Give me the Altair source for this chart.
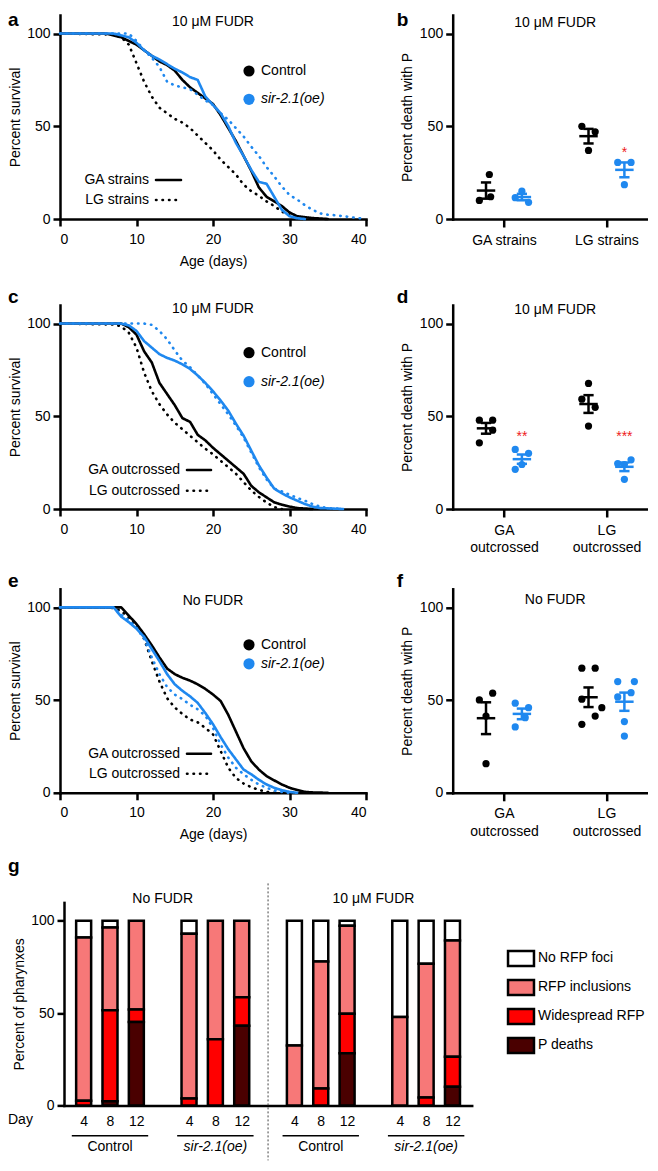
import json
import altair as alt
import pandas as pd

FONT = "Liberation Sans"
BLACK = "#000000"
BLUE = "#1f88ef"
RED = "#ee1c1c"

CONDS = ["Control", "sir-2.1(oe)"]
COND_COLORS = [BLACK, BLUE]
STRAINS = ["GA", "LG"]
STRAIN_DASH = [[1, 0], [0.5, 6]]

# ---------------- panel a : survival, 10 uM FUDR, strains ----------------
a_ga_ctrl_day = [0, 6, 8, 9, 10, 11, 12, 13, 14, 15, 16, 17, 18, 19, 20, 21, 22, 23, 24, 25, 26, 27, 28, 29, 30, 31, 33, 35]
a_ga_ctrl_pct = [100, 100, 98, 96, 94, 91, 88, 85, 83, 80, 75, 71, 68, 65, 62, 56, 49, 42, 34, 26, 17, 12, 9.5, 7, 3.5, 1.5, 0.5, 0]
a_ga_sir_day = [0, 7, 8, 9, 10, 11, 12, 13, 14, 15, 16, 17, 18, 19, 20, 21, 22, 23, 24, 25, 26, 27, 28, 29, 30, 31, 32]
a_ga_sir_pct = [100, 100, 99, 98, 95, 91, 88, 86, 83.5, 81, 79, 76.5, 75, 66, 61.5, 57, 50, 41, 34, 26.5, 20, 19, 12, 5, 1.5, 0.4, 0]
a_lg_ctrl_day = [0, 7, 8, 9, 10, 11, 12, 13, 14, 15, 16, 17, 18, 19, 20, 21, 22, 23, 24, 25, 26, 27, 28, 29, 30, 31, 32]
a_lg_ctrl_pct = [100, 99.5, 98, 94, 84, 74, 66, 60, 57, 54, 52, 49, 45, 41, 37, 32, 28, 24, 18.5, 15, 12.5, 9.5, 7, 4, 2, 0.5, 0]
a_lg_sir_day = [0, 9, 10, 11, 12, 13, 14, 15, 16, 17, 18, 19, 20, 21, 22, 23, 24, 25, 26, 27, 28, 29, 30, 31, 32, 33, 34, 35, 36, 37, 38, 40]
a_lg_sir_pct = [100, 100, 96, 91, 87, 82, 74, 72, 71, 70, 67, 64, 61.5, 57, 53.5, 49, 44.5, 39, 34, 28, 23, 17.5, 13, 10.5, 7.5, 5, 3, 2.3, 2, 1.5, 1, 0]

# ---------------- panel c : survival, 10 uM FUDR, outcrossed ----------------
c_ga_ctrl_day = [0, 8, 9, 10, 11, 12, 13, 14, 15, 16, 17, 18, 19, 20, 21, 22, 23, 24, 25, 26, 27, 28, 29, 30, 31, 33]
c_ga_ctrl_pct = [100, 100, 98, 94, 85, 79, 68, 62, 56, 49, 47, 40, 37, 33, 29.5, 26, 22.5, 19, 12.5, 9, 6.3, 3.6, 2.3, 1.3, 0.5, 0]
c_lg_ctrl_day = [0, 7, 8, 9, 10, 11, 12, 13, 14, 15, 16, 17, 18, 19, 20, 21, 22, 23, 24, 25, 26, 27, 28, 29]
c_lg_ctrl_pct = [100, 99.5, 98.5, 95, 87, 73.5, 63.5, 56.5, 51, 46.5, 43, 39.5, 36, 32.5, 29.5, 26, 22.5, 19, 14.5, 10, 6.5, 3.5, 1, 0]
c_ga_sir_day = [0, 8, 9, 10, 11, 12, 13, 14, 15, 16, 17, 18, 19, 20, 21, 22, 23, 24, 25, 26, 27, 28, 29, 30, 31, 32, 33, 34, 37]
c_ga_sir_pct = [100, 100, 99, 96, 90.5, 87, 83.5, 81.5, 80, 78, 75.5, 72, 68, 63.5, 58.5, 53, 46, 39.5, 31.5, 23.5, 17, 11, 8.5, 6.3, 4.5, 2.7, 1.3, 0.5, 0]
c_lg_sir_day = [0, 11, 12, 13, 14, 15, 16, 17, 18, 19, 20, 21, 22, 23, 24, 25, 26, 27, 28, 29, 30, 31, 32, 33, 34, 35, 37]
c_lg_sir_pct = [100, 100, 99.3, 96, 91.5, 85.5, 80, 76.5, 72, 67.5, 62, 56.5, 51, 45, 38.5, 30.5, 22.5, 16, 11, 9.5, 7.7, 6, 4.5, 2.7, 1.3, 0.5, 0]

# ---------------- panel e : survival, no FUDR, outcrossed ----------------
e_ga_ctrl_day = [0, 8, 9, 10, 11, 12, 13, 14, 15, 16, 17, 18, 19, 20, 21, 22, 23, 24, 25, 26, 27, 28, 29, 30, 31, 32, 33, 35]
e_ga_ctrl_pct = [100, 100, 95.5, 91, 85.5, 79.5, 73, 67, 64, 62, 60.5, 58.5, 56, 53, 49.5, 42, 33, 24, 17, 12.5, 9, 6.7, 4.5, 2.7, 1.5, 0.5, 0.2, 0]
e_ga_sir_day = [0, 7, 8, 9, 10, 11, 12, 13, 14, 15, 16, 17, 18, 19, 20, 21, 22, 23, 24, 25, 26, 27, 28, 29, 30, 31]
e_ga_sir_pct = [100, 100, 95, 92, 88.5, 84, 77.5, 71, 64, 58.5, 55, 52, 48.5, 43, 37, 30, 23.5, 18, 12.5, 10, 7, 4.5, 2.7, 1.4, 0.5, 0]
e_lg_ctrl_day = [0, 5, 7, 8, 9, 10, 11, 12, 13, 14, 15, 16, 17, 18, 19, 20, 21, 22, 23, 24, 25, 26, 27, 28]
e_lg_ctrl_pct = [100, 100, 99.6, 98, 94.5, 90, 83, 71, 60, 51, 46, 42.5, 39.5, 38, 35, 31.5, 22.5, 13.5, 8, 5, 3, 1.6, 0.5, 0]
e_lg_sir_day = [0, 7, 8, 9, 10, 11, 12, 13, 14, 15, 16, 17, 18, 19, 20, 21, 22, 23, 24, 25, 26, 27, 28, 29, 30]
e_lg_sir_pct = [100, 100, 96, 93, 89, 83, 73, 64, 57, 53, 50.5, 47.5, 45, 41.5, 35, 26, 19, 13.5, 10, 7, 4.5, 2.7, 1.3, 0.5, 0]

# ---------------- panels b, d, f : percent death with P ----------------
b_groups = ["GA strains", "LG strains"]
b_ga_ctrl = [24, 10, 12]
b_ga_sir = [15, 11.5, 9]
b_lg_ctrl = [50, 47, 37]
b_lg_sir = [30.5, 30.5, 18.5]
b_slots = [[0.5, -1, 0.7], [0, -1, 1], [-1, 1, 0], [-1, 1, 0]]
b_stars = ["", "*"]
b_star_y = [0, 37.5]

d_groups = ["GA\noutcrossed", "LG\noutcrossed"]
d_ga_ctrl = [47.9, 47.9, 42.5, 35.7]
d_ga_sir = [32.1, 30, 24, 21.4]
d_lg_ctrl = [67.7, 59.2, 54.8, 44.7]
d_lg_sir = [24.5, 26.5, 24, 16]
d_slots = [[-1, 1, 1, -1], [-1, 1, 0, -1], [0, -1, 1, 0], [-1, 1, 0, 0]]
d_stars = ["**", "***"]
d_star_y = [41, 41]

f_groups = ["GA\noutcrossed", "LG\noutcrossed"]
f_ga_ctrl = [53.7, 50.1, 41.4, 15.7]
f_ga_sir = [48.3, 45.9, 40.5, 35.5]
f_lg_ctrl = [67.2, 67.2, 50.5, 45.9, 41.4, 36.9]
f_lg_sir = [60, 60, 54, 51.7, 38.4, 30.6]
f_slots = [[1, -1, 0, 0], [-1, 1, 0.5, -1], [-1, 1, -1, 2, 1, -1], [-1, 1.5, 1, -1, 0, 0]]
f_stars = ["", ""]
f_star_y = [0, 0]

# ---------------- panel g : pharynx categories ----------------
G_GROUPS = ["Control", "sir-2.1(oe)", "Control", "sir-2.1(oe)"]
G_TREATS = ["No FUDR", "10 μM FUDR"]
G_DAYS = [4, 8, 12]
CATS = ["No RFP foci", "RFP inclusions", "Widespread RFP", "P deaths"]
CAT_COLORS = ["#ffffff", "#f77878", "#ff0000", "#4a0000"]
STACK_ORDER = ["P deaths", "Widespread RFP", "RFP inclusions", "No RFP foci"]
g_p_deaths = [0, 2.3, 45.2, 0, 0, 43.1, 0, 0, 28.3, 0, 0, 10.1]
g_widespread = [2.5, 49.2, 6.7, 3.8, 35.9, 15.5, 0, 9.2, 21.4, 0, 4.3, 16.2]
g_inclusions = [88.5, 44.9, 48.1, 89.2, 64.1, 41.4, 32.4, 68.8, 47.6, 47.9, 72.5, 63.1]
g_no_rfp = [9.0, 3.6, 0, 7.0, 0, 0, 67.6, 22.0, 2.7, 52.1, 23.2, 10.6]

W1, W2, H = 306, 195, 204
X2_MAX = 195 / 51.25
GW, GH = 407.7, 203

color_scale = alt.Scale(domain=CONDS, range=COND_COLORS)
dash_scale = alt.Scale(domain=STRAINS, range=STRAIN_DASH)


def text_layer(text, x, y, size=14, weight="normal", style="normal", align="center", color=BLACK):
    return alt.Chart(pd.DataFrame({"t": [text]})).mark_text(
        font=FONT, fontSize=size, fontWeight=weight, fontStyle=style,
        align=align, baseline="middle", color=color
    ).encode(text="t:N", x=alt.value(x), y=alt.value(y))


def top_guard(y):
    # invisible guide that reserves a little room above the panel letters
    return alt.Chart(pd.DataFrame({"v": [0]})).mark_rule(opacity=0, strokeWidth=1).encode(
        x=alt.value(0), x2=alt.value(1), y=alt.value(y))


def series_frame(items):
    rows = []
    for cond, strain, days, pcts in items:
        for d, p in zip(days, pcts):
            rows.append({"cond": cond, "strain": strain, "series": cond + "|" + strain, "day": d, "pct": p})
    return pd.DataFrame(rows)


def survival_panel(df, strain_labels, title, title_y, letter, letter_y, circ_y, strain_y,
                   lab_right, samp_x, xtitle, guard=False):
    xaxis = alt.Axis(values=[0, 10, 20, 30, 40], title=xtitle)
    yaxis = alt.Axis(values=[0, 50, 100], title="Percent survival")
    lines = alt.Chart(df).mark_line(strokeWidth=2.6, strokeCap="round", strokeJoin="round").encode(
        x=alt.X("day:Q", scale=alt.Scale(domain=[0, 40], nice=False), axis=xaxis),
        y=alt.Y("pct:Q", scale=alt.Scale(domain=[0, 110], nice=False), axis=yaxis),
        color=alt.Color("cond:N", scale=color_scale, legend=None),
        strokeDash=alt.StrokeDash("strain:N", scale=dash_scale, legend=None),
        detail="series:N",
    )
    layers = [lines, text_layer(title, W1 / 2, title_y),
              text_layer(letter, -52, letter_y, size=19, weight="bold", align="left")]
    if guard:
        layers.append(top_guard(-6.5))
    for i, cond in enumerate(CONDS):
        layers.append(alt.Chart(pd.DataFrame({"c": [cond]})).mark_circle(size=125, opacity=1).encode(
            x=alt.value(189), y=alt.value(circ_y[i]),
            color=alt.Color("c:N", scale=color_scale, legend=None)))
        layers.append(text_layer(cond, 201, circ_y[i], style="italic" if i == 1 else "normal", align="left"))
    for i, lab in enumerate(strain_labels):
        layers.append(text_layer(lab, lab_right, strain_y[i], align="right"))
        layers.append(alt.Chart(pd.DataFrame({"s": [STRAINS[i]]})).mark_rule(
            strokeWidth=2.6, strokeCap="round", color=BLACK).encode(
            x=alt.value(samp_x[0]), x2=alt.value(samp_x[1]), y=alt.value(strain_y[i]),
            strokeDash=alt.StrokeDash("s:N", scale=dash_scale, legend=None)))
    return alt.layer(*layers).properties(width=W1, height=H)


def scatter_panel(groups, values, slots, stars, star_y, title, title_y, letter, letter_y):
    rows = []
    for gi in range(2):
        for ci in range(2):
            k = 2 * gi + ci
            for v, s in zip(values[k], slots[k]):
                rows.append({"gi": gi, "ci": ci, "cond": CONDS[ci], "v": v, "slot": s})
    df = pd.DataFrame(rows)
    labs = []
    for g in groups:
        parts = g.split("\n")
        labs.append(json.dumps(parts if len(parts) > 1 else parts[0]))
    expr = f"datum.value == 1 ? {labs[0]} : (datum.value == 3 ? {labs[1]} : '')"
    xscale = alt.Scale(domain=[0, X2_MAX], nice=False, zero=False)
    yscale = alt.Scale(domain=[0, 110], nice=False)
    xaxis = alt.Axis(values=[1, 3], labelExpr=expr, title=None, tickSize=8, labelLineHeight=17.5)
    yaxis = alt.Axis(values=[0, 50, 100], title="Percent death with P")
    col = alt.Color("cond:N", scale=color_scale, legend=None)

    def X(f):
        return alt.X(f, scale=xscale, axis=xaxis)

    def Y(f):
        return alt.Y(f, scale=yscale, axis=yaxis)

    base = alt.Chart(df).transform_calculate(xc="1 + 2*datum.gi + (datum.ci == 0 ? -0.35 : 0.35)")
    pts = base.transform_calculate(xp="datum.xc + 0.13*datum.slot").mark_circle(size=52, opacity=1).encode(
        x=X("xp:Q"), y=Y("v:Q"), color=col)
    agg = base.transform_aggregate(m="mean(v)", se="stderr(v)", groupby=["gi", "ci", "cond", "xc"]).transform_calculate(
        lo="datum.m - datum.se", hi="datum.m + datum.se",
        ml="datum.xc - 0.18", mr="datum.xc + 0.18", cl="datum.xc - 0.1", cr="datum.xc + 0.1")
    mean_rule = agg.mark_rule(strokeWidth=2.5).encode(x=X("ml:Q"), x2="mr:Q", y=Y("m:Q"), color=col)
    vert = agg.mark_rule(strokeWidth=2.5).encode(x=X("xc:Q"), y=Y("lo:Q"), y2="hi:Q", color=col)
    cap_lo = agg.mark_rule(strokeWidth=2.5).encode(x=X("cl:Q"), x2="cr:Q", y=Y("lo:Q"), color=col)
    cap_hi = agg.mark_rule(strokeWidth=2.5).encode(x=X("cl:Q"), x2="cr:Q", y=Y("hi:Q"), color=col)
    layers = [pts, mean_rule, vert, cap_lo, cap_hi,
              text_layer(title, 205 / 2, title_y),
              text_layer(letter, -56, letter_y, size=19, weight="bold", align="left")]
    sdf = pd.DataFrame({"gi": [0, 1], "txt": stars, "sy": star_y})
    sdf = sdf[sdf["txt"] != ""]
    if len(sdf):
        layers.append(alt.Chart(sdf).transform_calculate(sx="1 + 2*datum.gi + 0.35").mark_text(
            font=FONT, fontSize=14, color=RED, baseline="middle", dy=4).encode(
            x=X("sx:Q"), y=Y("sy:Q"), text="txt:N"))
    return alt.layer(*layers).properties(width=W2, height=H)


def g_panel():
    rows = []
    bar_vals = {"P deaths": g_p_deaths, "Widespread RFP": g_widespread,
                "RFP inclusions": g_inclusions, "No RFP foci": g_no_rfp}
    for b in range(len(G_GROUPS) * len(G_DAYS)):
        gi, di = divmod(b, len(G_DAYS))
        for cat in CATS:
            rows.append({"gi": gi, "di": di, "cat": cat, "val": bar_vals[cat][b],
                         "rank": STACK_ORDER.index(cat)})
    df = pd.DataFrame(rows)
    step = len(G_DAYS) + 1
    npos = step * len(G_GROUPS) - 1
    labels = [""] * npos
    positions = []
    for gi in range(len(G_GROUPS)):
        for di, d in enumerate(G_DAYS):
            labels[step * gi + di] = str(d)
            positions.append(step * gi + di)
    expr = json.dumps(labels) + "[datum.value]"
    xscale = alt.Scale(domain=[-0.556, 14.54], nice=False, zero=False)
    xaxis = alt.Axis(values=positions, labelExpr=expr, title=None, ticks=False, tickSize=0, labelPadding=9)
    yaxis = alt.Axis(values=[0, 50, 100], title="Percent of pharynxes")

    def X(f):
        return alt.X(f, scale=xscale, axis=xaxis)

    bars = alt.Chart(df).transform_filter("datum.val > 0").transform_calculate(
        pos=f"{step}*datum.gi + datum.di").mark_bar(size=15, stroke=BLACK, strokeWidth=2.5).encode(
        x=X("pos:Q"),
        y=alt.Y("val:Q", stack="zero", scale=alt.Scale(domain=[0, 110], nice=False), axis=yaxis),
        fill=alt.Fill("cat:N", scale=alt.Scale(domain=CATS, range=CAT_COLORS), legend=alt.Legend(
            orient="none", legendX=452, legendY=47, title=None,
            symbolType="M-1.73,-1H1.73V1H-1.73Z", symbolSize=225,
            symbolStrokeColor=BLACK, symbolStrokeWidth=2.5, symbolOpacity=1,
            labelFont=FONT, labelFontSize=14, labelColor=BLACK, labelOffset=8,
            rowPadding=3, padding=0, labelLimit=300)),
        order=alt.Order("rank:Q"),
    )
    gdf = pd.DataFrame({"gi": list(range(len(G_GROUPS))), "name": G_GROUPS})
    gbase = alt.Chart(gdf).transform_calculate(
        lo=f"{step}*datum.gi - 0.45", hi=f"{step}*datum.gi + {len(G_DAYS) - 1} + 0.45",
        mid=f"{step}*datum.gi + {(len(G_DAYS) - 1) / 2}")
    under = gbase.mark_rule(strokeWidth=1.6, color=BLACK).encode(x=X("lo:Q"), x2="hi:Q", y=alt.value(233.3))
    lab_ctrl = gbase.transform_filter("datum.name == 'Control'").mark_text(
        font=FONT, fontSize=14, color=BLACK, baseline="middle").encode(
        x=X("mid:Q"), y=alt.value(245), text="name:N")
    lab_sir = gbase.transform_filter("datum.name != 'Control'").mark_text(
        font=FONT, fontSize=14, color=BLACK, baseline="middle", fontStyle="italic").encode(
        x=X("mid:Q"), y=alt.value(245), text="name:N")
    tdf = pd.DataFrame({"ti": [0, 1], "name": G_TREATS})
    treat = alt.Chart(tdf).transform_calculate(tx=f"{2 * step}*datum.ti + {step - 1}").mark_text(
        font=FONT, fontSize=14, color=BLACK, baseline="middle").encode(
        x=X("tx:Q"), y=alt.value(-3), text="name:N")
    sep = alt.Chart(pd.DataFrame({"ti": [1]})).transform_calculate(
        sx=f"{2 * step}*datum.ti - 1").mark_rule(strokeDash=[2, 2], strokeWidth=1, color="#444444").encode(
        x=X("sx:Q"), y=alt.value(-19), y2=alt.value(258))
    return alt.layer(bars, sep, under, lab_ctrl, lab_sir, treat,
                     text_layer("Day", -56, 217.3, align="left"),
                     text_layer("g", -56, -36, size=19, weight="bold", align="left")
                     ).properties(width=GW, height=GH)


a_df = series_frame([
    ("Control", "GA", a_ga_ctrl_day, a_ga_ctrl_pct), ("Control", "LG", a_lg_ctrl_day, a_lg_ctrl_pct),
    ("sir-2.1(oe)", "GA", a_ga_sir_day, a_ga_sir_pct), ("sir-2.1(oe)", "LG", a_lg_sir_day, a_lg_sir_pct)])
c_df = series_frame([
    ("Control", "GA", c_ga_ctrl_day, c_ga_ctrl_pct), ("Control", "LG", c_lg_ctrl_day, c_lg_ctrl_pct),
    ("sir-2.1(oe)", "GA", c_ga_sir_day, c_ga_sir_pct), ("sir-2.1(oe)", "LG", c_lg_sir_day, c_lg_sir_pct)])
e_df = series_frame([
    ("Control", "GA", e_ga_ctrl_day, e_ga_ctrl_pct), ("Control", "LG", e_lg_ctrl_day, e_lg_ctrl_pct),
    ("sir-2.1(oe)", "GA", e_ga_sir_day, e_ga_sir_pct), ("sir-2.1(oe)", "LG", e_lg_sir_day, e_lg_sir_pct)])

pa = survival_panel(a_df, ["GA strains", "LG strains"], "10 μM FUDR", 7, "a", 4.5,
                    [56, 84.3], [165, 185], 89, [96, 121], "Age (days)", guard=True)
pc = survival_panel(c_df, ["GA outcrossed", "LG outcrossed"], "10 μM FUDR", 4.3, "c", -8,
                    [47.7, 76.7], [165, 185.7], 120, [127, 151], None)
pe = survival_panel(e_df, ["GA outcrossed", "LG outcrossed"], "No FUDR", 11.7, "e", -8,
                    [56, 75], [165, 185], 120, [127, 151], "Age (days)")

pb = scatter_panel(b_groups, [b_ga_ctrl, b_ga_sir, b_lg_ctrl, b_lg_sir], b_slots, b_stars, b_star_y,
                   "10 μM FUDR", 7.7, "b", 4.5)
pd_ = scatter_panel(d_groups, [d_ga_ctrl, d_ga_sir, d_lg_ctrl, d_lg_sir], d_slots, d_stars, d_star_y,
                    "10 μM FUDR", 5, "d", -8)
pf = scatter_panel(f_groups, [f_ga_ctrl, f_ga_sir, f_lg_ctrl, f_lg_sir], f_slots, f_stars, f_star_y,
                   "No FUDR", 11, "f", -8)

pg = g_panel()
spacer = alt.Chart(pd.DataFrame({"v": [0]})).mark_point(opacity=0).encode(
    x=alt.value(0), y=alt.value(0)).properties(width=1, height=GH)

row1 = alt.hconcat(pa, pb, spacing=86.7, bounds="flush")
row2 = alt.hconcat(pc, pd_, spacing=86.7, bounds="flush")
row3 = alt.hconcat(pe, pf, spacing=86.7, bounds="flush")
row4 = alt.hconcat(spacer, pg, spacing=3, bounds="flush")
rows23 = alt.vconcat(row2, row3, spacing=16.8)
top = alt.vconcat(row1, rows23, spacing=20)
chart = alt.vconcat(top, row4, spacing=15.4).resolve_scale(
    fill="independent"
).properties(
    padding={"left": 0, "top": 0, "right": 0, "bottom": 0}, background="white"
).configure(font=FONT).configure_view(stroke=None).configure_axis(
    domainColor=BLACK, domainWidth=2.5, domainCap="square", tickColor=BLACK, tickWidth=2.5,
    tickSize=7, labelFont=FONT, labelFontSize=14, labelColor=BLACK, titleFont=FONT,
    titleFontSize=14, titleFontWeight="normal", titleColor=BLACK, grid=False
).configure_axisX(labelPadding=6, titlePadding=8).configure_axisY(labelPadding=3, titlePadding=4.5)

chart.save("out.html", embed_options={"renderer": "svg", "actions": False})
